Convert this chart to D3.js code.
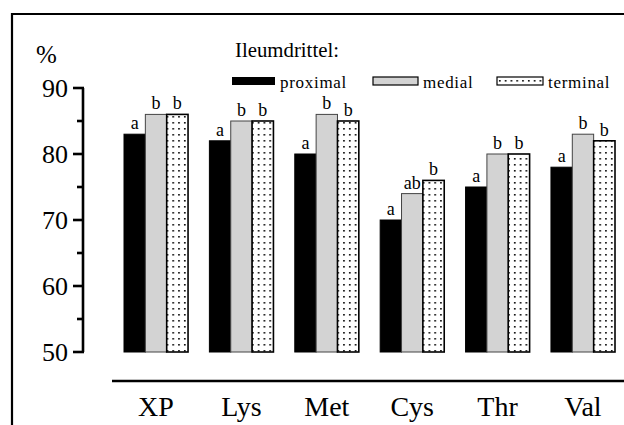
<!DOCTYPE html>
<html>
<head>
<meta charset="utf-8">
<script src="https://cdn.jsdelivr.net/npm/d3@7/dist/d3.min.js"></script>
<style>
  html, body { margin: 0; padding: 0; background: #fff; }
  svg { display: block; }
</style>
</head>
<body>
<svg id="chart" width="624" height="425" font-family="Liberation Serif, Times New Roman, serif"></svg>
<script>
// Ileum thirds, digestibility in %
var categories = ["XP", "Lys", "Met", "Cys", "Thr", "Val"];
var seriesNames = ["proximal", "medial", "terminal"];
var proximal = [83, 82, 80, 70, 75, 78];
var medial = [86, 85, 86, 74, 80, 83];
var terminal = [86, 85, 85, 76, 80, 82];
var proximalSig = ["a", "a", "a", "a", "a", "a"];
var medialSig = ["b", "b", "b", "ab", "b", "b"];
var terminalSig = ["b", "b", "b", "b", "b", "b"];
var yTicks = [50, 60, 70, 80, 90];
var yMinorTicks = [55, 65, 75, 85];

var values = { proximal: proximal, medial: medial, terminal: terminal };
var sigs = { proximal: proximalSig, medial: medialSig, terminal: terminalSig };

var svg = d3.select("#chart");
var serif = "'Liberation Serif', 'Times New Roman', serif";

// dotted pattern for the terminal bars
var defs = svg.append("defs");
var pat = defs.append("pattern")
  .attr("id", "dots")
  .attr("patternUnits", "userSpaceOnUse")
  .attr("width", 5.8)
  .attr("height", 6);
pat.append("rect").attr("width", 5.8).attr("height", 6).attr("fill", "#fff");
pat.append("rect").attr("x", 2).attr("y", 2).attr("width", 1.6).attr("height", 1.6).attr("fill", "#000");

var fills = { proximal: "#000", medial: "#d3d3d3", terminal: "url(#dots)" };

// outer frame (runs off the right and bottom edges)
svg.append("path")
  .attr("d", "M12,430 V14 H630")
  .attr("fill", "none")
  .attr("stroke", "#000")
  .attr("stroke-width", 2.2);

var y = d3.scaleLinear().domain([50, 90]).range([352, 88]);
var x0 = d3.scaleBand().domain(categories).range([124, 615]).paddingInner(0.25).paddingOuter(0);
var x1 = d3.scaleBand().domain(seriesNames).range([0, x0.bandwidth()]);

// y axis
var yAxis = svg.append("g").attr("transform", "translate(83,0)");
yAxis.append("line")
  .attr("y1", y(90)).attr("y2", y(50))
  .attr("stroke", "#000").attr("stroke-width", 2.6);
yAxis.selectAll(".major").data(yTicks).enter().append("line")
  .attr("class", "major")
  .attr("x1", -10).attr("x2", 1)
  .attr("y1", function(d) { return y(d); }).attr("y2", function(d) { return y(d); })
  .attr("stroke", "#000").attr("stroke-width", 2.6);
yAxis.selectAll(".minor").data(yMinorTicks).enter().append("line")
  .attr("class", "minor")
  .attr("x1", -6).attr("x2", 1)
  .attr("y1", function(d) { return y(d); }).attr("y2", function(d) { return y(d); })
  .attr("stroke", "#000").attr("stroke-width", 2.6);
yAxis.selectAll(".lbl").data(yTicks).enter().append("text")
  .attr("class", "lbl")
  .attr("x", -15)
  .attr("y", function(d) { return y(d) + 9; })
  .attr("text-anchor", "end")
  .style("font-family", serif)
  .style("font-size", "26px")
  .text(function(d) { return d; });

svg.append("text")
  .attr("x", 36).attr("y", 63)
  .style("font-family", serif)
  .style("font-size", "25px")
  .text("%");

// bars
var groups = svg.selectAll(".grp").data(categories).enter().append("g")
  .attr("class", "grp")
  .attr("transform", function(d) { return "translate(" + x0(d) + ",0)"; });

function rows(d, i) {
  return seriesNames.map(function(s) { return { s: s, v: values[s][i], sig: sigs[s][i] }; });
}

groups.selectAll("rect").data(rows).enter().append("rect")
  .attr("x", function(d) { return x1(d.s); })
  .attr("y", function(d) { return y(d.v); })
  .attr("width", x1.bandwidth())
  .attr("height", function(d) { return y(50) - y(d.v); })
  .attr("fill", function(d) { return fills[d.s]; })
  .attr("stroke", function(d) { return d.s == "medial" ? "#444" : "#000"; })
  .attr("stroke-width", function(d) { return d.s == "terminal" ? 1.6 : 1; });

groups.selectAll(".sig").data(rows).enter().append("text")
  .attr("class", "sig")
  .attr("x", function(d) { return x1(d.s) + x1.bandwidth() / 2; })
  .attr("y", function(d) { return y(d.v) - 5; })
  .attr("text-anchor", "middle")
  .style("font-family", serif)
  .style("font-size", "18px")
  .text(function(d) { return d.sig; });

// x axis line and category labels
svg.append("line")
  .attr("x1", 112).attr("x2", 630)
  .attr("y1", 381).attr("y2", 381)
  .attr("stroke", "#000").attr("stroke-width", 2.6);

svg.selectAll(".cat").data(categories).enter().append("text")
  .attr("class", "cat")
  .attr("x", function(d) { return x0(d) + x0.bandwidth() / 2; })
  .attr("y", 416)
  .attr("text-anchor", "middle")
  .style("font-family", serif)
  .style("font-size", "28px")
  .text(function(d) { return d; });

// legend
svg.append("text")
  .attr("x", 235).attr("y", 57)
  .style("font-family", serif)
  .style("font-size", "20.8px")
  .text("Ileumdrittel:");

var legendX = { proximal: 232, medial: 373, terminal: 497 };
var legendW = { proximal: 43, medial: 45, terminal: 46 };
var legend = svg.selectAll(".leg").data(seriesNames).enter().append("g")
  .attr("class", "leg")
  .attr("transform", function(d) { return "translate(" + legendX[d] + ",0)"; });
legend.append("rect")
  .attr("x", 0).attr("y", 77)
  .attr("width", function(d) { return legendW[d]; })
  .attr("height", 8)
  .attr("fill", function(d) { return fills[d]; })
  .attr("stroke", "#000")
  .attr("stroke-width", function(d) { return d == "proximal" ? 0 : 1.2; });
legend.append("text")
  .attr("x", function(d) { return legendW[d] + 5; })
  .attr("y", 88)
  .style("font-family", serif)
  .style("font-size", "17px")
  .style("letter-spacing", "0.7px")
  .text(function(d) { return d; });
</script>
</body>
</html>
